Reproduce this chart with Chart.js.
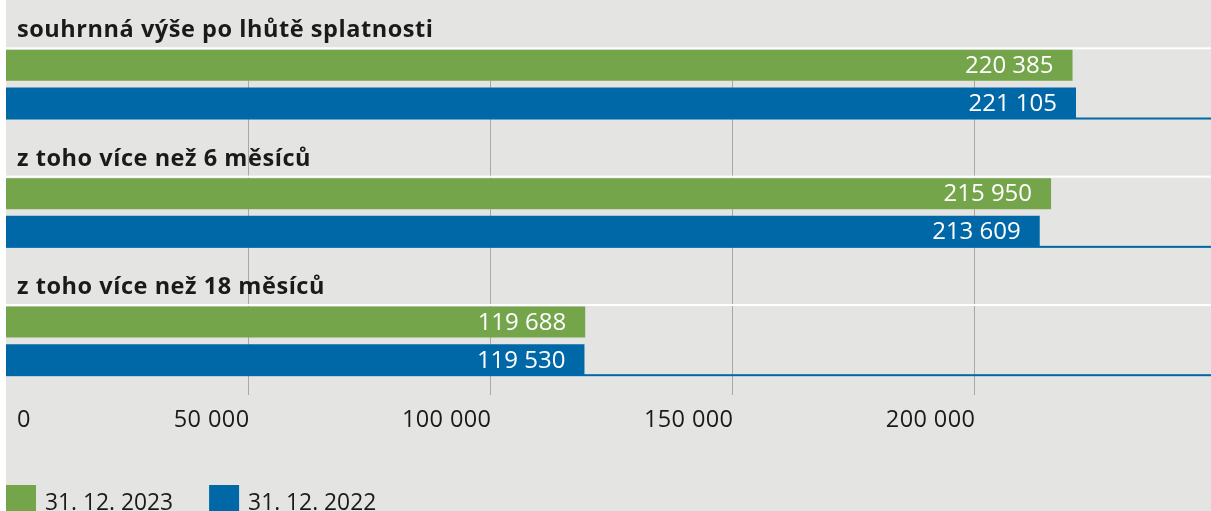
<!DOCTYPE html>
<html><head><meta charset="utf-8">
<script src="https://cdn.jsdelivr.net/npm/chart.js@4"></script>
<style>html,body{margin:0;padding:0;background:#fff;overflow:hidden;} #wrap{width:1211px;height:511px;}</style>
</head><body><div id="wrap"><canvas id="c" width="1211" height="511"></canvas></div>
<script>
const categories = ['souhrnná výše po lhůtě splatnosti', 'z toho více než 6 měsíců', 'z toho více než 18 měsíců'];
const seriesLabels = ['31. 12. 2023', '31. 12. 2022'];
const values2023 = [220385, 215950, 119688];
const values2022 = [221105, 213609, 119530];
const tickValues = [0, 50000, 100000, 150000, 200000];
const tickLabels = ['0', '50 000', '100 000', '150 000', '200 000'];
const seriesColors = ['#74a54a', '#0068a6'];

const FONT = '"Open Sans", "Noto Sans", sans-serif';
const BG = '#e4e4e3';
const TEXT = '#1a1a1a';

function fmt(v) { return String(v).replace(/\B(?=(\d{3})+(?!\d))/g, ' '); }
function setLS(ctx, v) { if ('letterSpacing' in ctx) ctx.letterSpacing = v; }

const custom = {
  id: 'custom',
  beforeDraw(chart) {
    const ctx = chart.ctx;
    ctx.save();
    ctx.fillStyle = '#ffffff';
    ctx.fillRect(0, 0, chart.width, chart.height);
    ctx.fillStyle = BG;
    ctx.fillRect(6, 0, chart.width - 6, chart.height);
    ctx.restore();
  },
  beforeDatasetsDraw(chart) {
    const ctx = chart.ctx;
    const xs = chart.scales.x;
    const area = chart.chartArea;
    const g = chart.getDatasetMeta(0).data;
    const b = chart.getDatasetMeta(1).data;
    ctx.save();
    const g0 = g[0].getProps(['y', 'height'], true);
    const top = g0.y + g0.height / 2;
    const bottom = area.bottom - 10;
    ctx.strokeStyle = '#a8a8a8';
    ctx.lineWidth = 1;
    tickValues.forEach(v => {
      if (v === 0) return;
      const px = Math.round(xs.getPixelForValue(v)) + 0.5;
      ctx.beginPath();
      ctx.moveTo(px, top);
      ctx.lineTo(px, bottom);
      ctx.stroke();
    });
    categories.forEach((label, i) => {
      const gp = g[i].getProps(['y', 'height'], true);
      const bp = b[i].getProps(['y', 'height'], true);
      const gTop = gp.y - gp.height / 2;
      const bBottom = bp.y + bp.height / 2;
      ctx.fillStyle = '#ffffff';
      ctx.fillRect(6, gTop - 2.5, chart.width - 6, 2);
      ctx.fillStyle = seriesColors[1];
      ctx.fillRect(6, bBottom - 1, chart.width - 6, 2);
      ctx.fillStyle = TEXT;
      ctx.font = 'bold 23.5px ' + FONT;
      setLS(ctx, '0.55px');
      ctx.textAlign = 'left';
      ctx.textBaseline = 'alphabetic';
      ctx.fillText(label, 17, gTop - 12.5);
    });
    ctx.restore();
  },
  afterDatasetsDraw(chart) {
    const ctx = chart.ctx;
    const xs = chart.scales.x;
    ctx.save();
    ctx.font = '24px ' + FONT;
    setLS(ctx, '0px');
    ctx.fillStyle = '#ffffff';
    ctx.textAlign = 'right';
    ctx.textBaseline = 'middle';
    chart.data.datasets.forEach((ds, di) => {
      chart.getDatasetMeta(di).data.forEach((bar, i) => {
        const p = bar.getProps(['x', 'y'], true);
        ctx.fillText(fmt(ds.data[i]), p.x - 19, p.y + 1);
      });
    });
    ctx.font = '23.5px ' + FONT;
    setLS(ctx, '0.4px');
    ctx.fillStyle = TEXT;
    ctx.textBaseline = 'alphabetic';
    tickValues.forEach((v, i) => {
      const px = xs.getPixelForValue(v);
      if (v === 0) {
        ctx.textAlign = 'left';
        ctx.fillText(tickLabels[i], px + 11, 427);
      } else {
        ctx.textAlign = 'right';
        ctx.fillText(tickLabels[i], px + 1.5, 427);
      }
    });
    let lx = 6;
    ctx.textAlign = 'left';
    setLS(ctx, '0px');
    chart.data.datasets.forEach((ds, di) => {
      ctx.fillStyle = ds.backgroundColor;
      ctx.fillRect(lx, 485, 30, 30);
      ctx.fillStyle = TEXT;
      ctx.font = '22.8px ' + FONT;
      const tx = lx + 39;
      ctx.fillText(ds.label, tx, 510);
      lx = tx + ctx.measureText(ds.label).width + 36;
    });
    ctx.restore();
  }
};

new Chart(document.getElementById('c'), {
  type: 'bar',
  data: {
    labels: categories,
    datasets: [
      { label: seriesLabels[0], data: values2023, backgroundColor: seriesColors[0], borderWidth: 0, categoryPercentage: 0.5877, barPercentage: 0.822 },
      { label: seriesLabels[1], data: values2022, backgroundColor: seriesColors[1], borderWidth: 0, categoryPercentage: 0.5877, barPercentage: 0.822 }
    ]
  },
  options: {
    indexAxis: 'y',
    responsive: false,
    animation: false,
    devicePixelRatio: 1,
    layout: { padding: { left: 6, right: 0, top: 20, bottom: 106 } },
    plugins: { legend: { display: false }, tooltip: { enabled: false }, title: { display: false } },
    scales: {
      x: { type: 'linear', min: 0, max: 249000, display: false },
      y: { type: 'category', display: false, offset: true }
    }
  },
  plugins: [custom]
});
</script>
</body></html>
